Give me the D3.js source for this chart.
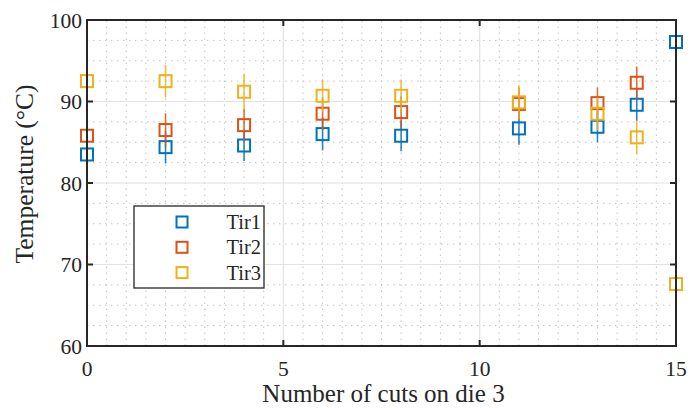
<!DOCTYPE html>
<html>
<head>
<meta charset="utf-8">
<script src="https://cdn.jsdelivr.net/npm/d3@7"></script>
<style>
  html, body { margin: 0; padding: 0; background: #fff; }
  svg { display: block; }
  text { font-family: "Liberation Serif", "DejaVu Serif", serif; fill: #262626; }
</style>
</head>
<body>
<script>
// Number of cuts on die 3
const cuts = [0, 2, 4, 6, 8, 11, 13, 14, 15];

// Mean temperatures (°C) per sensor
const tir1 = [83.5, 84.4, 84.6, 86.0, 85.8, 86.7, 86.9, 89.6, 97.3];
const tir2 = [85.8, 86.5, 87.1, 88.5, 88.7, 89.7, 89.8, 92.3, 101.5];
const tir3 = [92.5, 92.5, 91.2, 90.7, 90.7, 89.9, 88.5, 85.6, 67.6];

// Half-width of the error bars (°C)
const err1 = [1.8, 2.0, 1.9, 2.0, 1.9, 2.0, 1.9, 2.0, 2.2];
const err2 = [2.1, 2.05, 2.0, 2.0, 2.0, 2.0, 1.9, 2.0, 4.0];
const err3 = [2.0, 2.0, 2.2, 2.0, 2.0, 2.1, 2.0, 2.1, 2.0];

const seriesNames = ["Tir1", "Tir2", "Tir3"];
const colors = ["#0072BD", "#D95319", "#EDB120"];

const xTicks = [0, 5, 10, 15];
const yTicks = [60, 70, 80, 90, 100];

const W = 692, H = 408;
const m = { left: 87, right: 16, top: 20, bottom: 62 };

const svg = d3.select("body").append("svg").attr("width", W).attr("height", H);

const x = d3.scaleLinear().domain([0, 15]).range([m.left, W - m.right]);
const y = d3.scaleLinear().domain([60, 100]).range([H - m.bottom, m.top]);

const x0 = x.range()[0], x1 = x.range()[1];
const y0 = y.range()[0], y1 = y.range()[1];

// Minor grid (dotted)
const xMinor = d3.range(0.5, 15, 0.5).filter(v => v % 5 !== 0);
const yMinor = d3.range(62.5, 100, 2.5).filter(v => v % 10 !== 0);
const grid = svg.append("g");
grid.selectAll(".xm").data(xMinor).join("line")
  .attr("x1", d => x(d)).attr("x2", d => x(d)).attr("y1", y0).attr("y2", y1)
  .attr("stroke", "#c4c4c4").attr("stroke-width", 1).attr("stroke-dasharray", "1.5,4.5");
grid.selectAll(".ym").data(yMinor).join("line")
  .attr("y1", d => y(d)).attr("y2", d => y(d)).attr("x1", x0).attr("x2", x1)
  .attr("stroke", "#c4c4c4").attr("stroke-width", 1).attr("stroke-dasharray", "1.5,4.5");

// Major grid
grid.selectAll(".xg").data(xTicks.slice(1, -1)).join("line")
  .attr("x1", d => x(d)).attr("x2", d => x(d)).attr("y1", y0).attr("y2", y1)
  .attr("stroke", "#e2e2e2").attr("stroke-width", 1.2);
grid.selectAll(".yg").data(yTicks.slice(1, -1)).join("line")
  .attr("y1", d => y(d)).attr("y2", d => y(d)).attr("x1", x0).attr("x2", x1)
  .attr("stroke", "#e2e2e2").attr("stroke-width", 1.2);

// Data layer, clipped to the axes box
svg.append("clipPath").attr("id", "plotclip").append("rect")
  .attr("x", x0 - 8).attr("y", y1).attr("width", x1 - x0 + 16).attr("height", y0 - y1);
const plot = svg.append("g").attr("clip-path", "url(#plotclip)");

const series = [
  { vals: tir1, errs: err1 },
  { vals: tir2, errs: err2 },
  { vals: tir3, errs: err3 }
];
const sz = 12;

series.forEach((s, i) => {
  const g = plot.append("g");
  const pts = cuts.map((c, j) => ({ c, v: s.vals[j], e: s.errs[j] }));
  g.selectAll("line").data(pts).join("line")
    .attr("x1", d => x(d.c)).attr("x2", d => x(d.c))
    .attr("y1", d => y(d.v - d.e)).attr("y2", d => y(d.v + d.e))
    .attr("stroke", colors[i]).attr("stroke-width", 1.6).attr("stroke-opacity", 0.85);
  g.selectAll("rect").data(pts.filter(d => d.v <= 100 && d.v >= 60)).join("rect")
    .attr("x", d => x(d.c) - sz / 2).attr("y", d => y(d.v) - sz / 2)
    .attr("width", sz).attr("height", sz)
    .attr("fill", "none").attr("stroke", colors[i]).attr("stroke-width", 2);
});

// Axes box
const axisColor = "#262626";
svg.append("rect").attr("x", x0).attr("y", y1).attr("width", x1 - x0).attr("height", y0 - y1)
  .attr("fill", "none").attr("stroke", axisColor).attr("stroke-width", 2);

// Tick marks (inward, all four sides)
const tl = 6;
const ticks = svg.append("g").attr("stroke", axisColor).attr("stroke-width", 2);
yTicks.forEach(v => {
  ticks.append("line").attr("x1", x0).attr("x2", x0 + tl).attr("y1", y(v)).attr("y2", y(v));
  ticks.append("line").attr("x1", x1).attr("x2", x1 - tl).attr("y1", y(v)).attr("y2", y(v));
});
xTicks.forEach(v => {
  ticks.append("line").attr("x1", x(v)).attr("x2", x(v)).attr("y1", y0).attr("y2", y0 - tl);
  ticks.append("line").attr("x1", x(v)).attr("x2", x(v)).attr("y1", y1).attr("y2", y1 + tl);
});

// Tick labels
svg.append("g").selectAll("text").data(yTicks).join("text")
  .attr("x", x0 - 5).attr("y", d => y(d)).attr("dy", "0.35em")
  .attr("text-anchor", "end").attr("font-size", 21.5).text(d => d);
svg.append("g").selectAll("text").data(xTicks).join("text")
  .attr("x", d => x(d)).attr("y", y0 + 30)
  .attr("text-anchor", "middle").attr("font-size", 21.5).text(d => d);

// Axis titles
svg.append("text").attr("x", (x0 + x1) / 2 + 2).attr("y", 402)
  .attr("text-anchor", "middle").attr("font-size", 25).text("Number of cuts on die 3");
svg.append("text").attr("transform", "translate(33,174) rotate(-90)")
  .attr("text-anchor", "middle").attr("font-size", 25.5).text("Temperature (°C)");

// Legend
const lg = svg.append("g");
lg.append("rect").attr("x", 134).attr("y", 206).attr("width", 130).attr("height", 82)
  .attr("fill", "#fff").attr("stroke", axisColor).attr("stroke-width", 1.3);
seriesNames.forEach((n, i) => {
  const cy = 222 + i * 25.3;
  lg.append("rect").attr("x", 182 - 5.5).attr("y", cy - 5.5).attr("width", 11).attr("height", 11)
    .attr("fill", "none").attr("stroke", colors[i]).attr("stroke-width", 2);
  lg.append("text").attr("x", 261).attr("y", cy).attr("dy", "0.35em")
    .attr("text-anchor", "end").attr("font-size", 20.5).text(n);
});
</script>
</body>
</html>
